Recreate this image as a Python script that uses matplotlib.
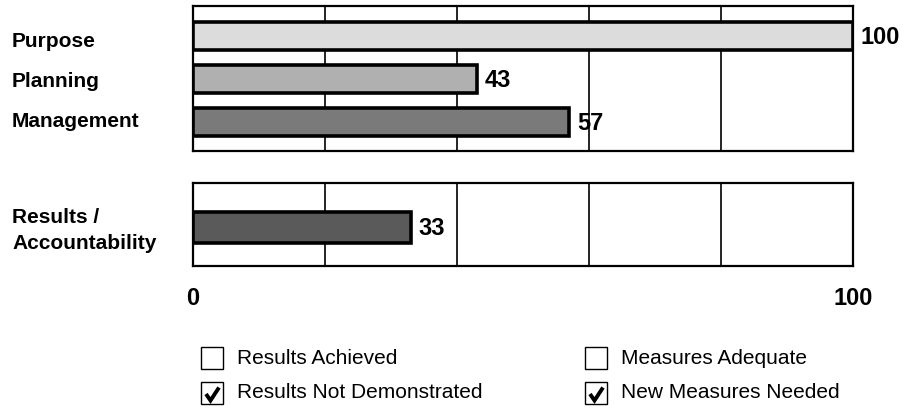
import numpy as np
import matplotlib.pyplot as plt
import matplotlib.transforms as mtransforms
from matplotlib.patches import Rectangle

plt.rcParams['font.family'] = ['Liberation Sans', 'DejaVu Sans']

# data
top_labels = ["Purpose", "Planning", "Management"]
top_values = [100, 43, 57]
top_colors = ["#dcdcdc", "#b0b0b0", "#7a7a7a"]

bot_labels = ["Results /\nAccountability"]
bot_values = [33]
bot_colors = ["#5a5a5a"]

legend_left = ["Results Achieved", "Results Not Demonstrated"]
legend_left_checked = [False, True]
legend_right = ["Measures Adequate", "New Measures Needed"]
legend_right_checked = [False, True]

W, H = 905, 409
fig = plt.figure(figsize=(W / 100, H / 100), dpi=100)

def px_axes(x0, y0, x1, y1):
    return fig.add_axes([x0 / W, 1 - y1 / H, (x1 - x0) / W, (y1 - y0) / H])

ax1 = px_axes(193, 6, 853, 151)
ax2 = px_axes(193, 183, 853, 266)

LABEL_FS = 15
LEG_FS = 15
VAL_FS = 17

def nudge(trans, dy):
    # shift down by dy pixels
    return trans + mtransforms.ScaledTranslation(0, -dy / 100, fig.dpi_scale_trans)

def draw_panel(ax, labels, values, colors, ylim, height, label_nudge):
    y = np.arange(len(values))
    ax.set_xlim(0, 100)
    ax.set_ylim(*ylim)
    for gx in [20, 40, 60, 80]:
        ax.axvline(gx, color="black", lw=1.2, zorder=1)
    ax.barh(y, values, height=height, color=colors, edgecolor="black",
            linewidth=2.6, zorder=3)
    for yi, v in zip(y, values):
        ax.text(v + 1.2, yi, str(v), ha="left", va="center",
                transform=nudge(ax.transData, 1.5),
                fontsize=VAL_FS, fontweight="bold", zorder=4)
    trans = mtransforms.blended_transform_factory(fig.transFigure, ax.transData)
    for yi, lab, dy in zip(y, labels, label_nudge):
        ax.text(12 / W, yi, lab, transform=nudge(trans, dy), ha="left",
                va="center", fontsize=LABEL_FS, fontweight="bold",
                linespacing=1.45)
    for s in ax.spines.values():
        s.set_linewidth(1.6)
    ax.set_yticks([])
    ax.set_xticks([])

draw_panel(ax1, top_labels, top_values, top_colors, (2.68, -0.7), 0.66, [5, 2.5, 0])
draw_panel(ax2, bot_labels, bot_values, bot_colors, (0.9, -1.04), 0.72, [3])

ax2.set_xticks([0, 100])
ax2.set_xticklabels(["0", "100"], fontsize=VAL_FS, fontweight="bold")
ax2.tick_params(axis="x", length=0, pad=15)

# legend drawn in pixel space
leg = fig.add_axes([0, 0, 1, 1])
leg.set_xlim(0, W)
leg.set_ylim(H, 0)
leg.axis("off")

def legend_col(x_box, labels, checked):
    for i, (lab, chk) in enumerate(zip(labels, checked)):
        yc = 358 + i * 35
        top = yc - 11
        leg.add_patch(Rectangle((x_box, top), 22, 22, fill=False,
                                edgecolor="black", lw=1.0))
        if chk:
            leg.plot([x_box + 5, x_box + 9.5, x_box + 18],
                     [top + 12, top + 18.5, top + 5.5],
                     color="black", lw=2.8, solid_capstyle="butt",
                     solid_joinstyle="miter")
        leg.text(x_box + 36, yc, lab, ha="left", va="center", fontsize=LEG_FS)

legend_col(201, legend_left, legend_left_checked)
legend_col(585, legend_right, legend_right_checked)

fig.savefig("out.png", dpi=100)
